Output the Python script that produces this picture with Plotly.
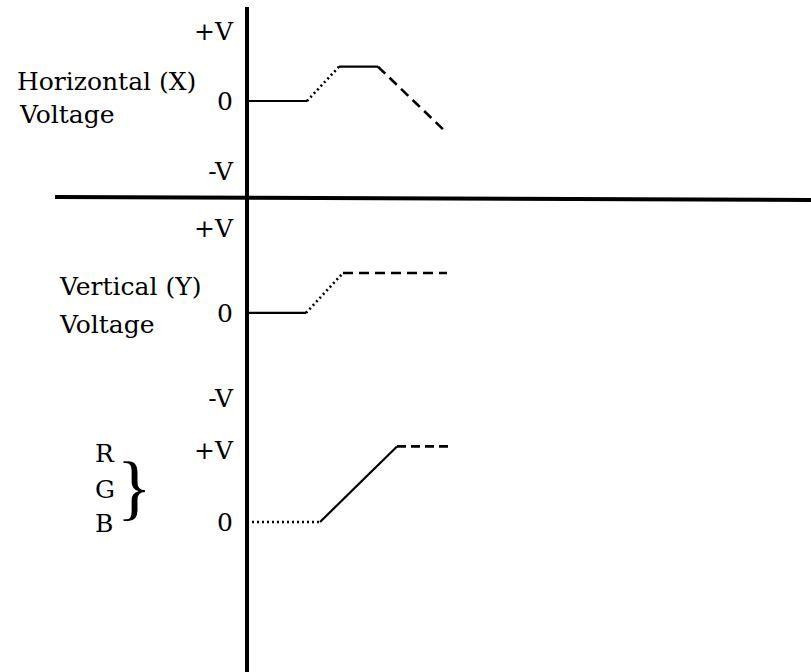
import plotly.graph_objects as go

# time axis (arbitrary units) and voltage levels (in units of V) for each panel
t_horiz = [0, 6.0, 9.2, 13.1, 19.8]
v_horiz = [0, 0, 0.49, 0.49, -0.43]

t_vert = [0, 5.9, 9.6, 20.0]
v_vert = [0, 0, 0.47, 0.47]

t_rgb = [0, 7.3, 15.0, 20.6]
v_rgb = [0, 0, 1.05, 1.05]

tick_vals_xy = [1, 0, -1]
tick_text_xy = ["+V", "0", "-V"]
tick_vals_rgb = [1, 0]
tick_text_rgb = ["+V", "0"]

# line style of each segment (solid / dotted / dashed)
horiz_dash = ["solid", "2px,3px", "solid", "10px,6px"]
vert_dash = ["solid", "2px,3px", "10px,6px"]
rgb_dash = ["2px,3px", "solid", "9px,5px"]

FONT = "DejaVu Serif"
W, H = 811, 672

fig = go.Figure()


def add_segments(t, v, dashes, yaxis):
    for i, dash in enumerate(dashes):
        fig.add_trace(go.Scatter(
            x=t[i:i + 2], y=v[i:i + 2], mode="lines", yaxis=yaxis,
            line=dict(color="black", width=2.2 if dash == "solid" else 2.6, dash=dash),
            showlegend=False, hoverinfo="skip",
        ))


add_segments(t_horiz, v_horiz, horiz_dash, "y")
add_segments(t_vert, v_vert, vert_dash, "y2")
add_segments(t_rgb, v_rgb, rgb_dash, "y3")

axis_pos = 247 / W
ycommon = dict(showgrid=False, zeroline=False, showline=False, ticks="",
               anchor="free", position=axis_pos, side="left",
               tickfont=dict(family=FONT, size=25, color="black"),
               ticklabelstandoff=14, domain=[0, 1])

fig.update_layout(
    width=W, height=H,
    margin=dict(l=0, r=0, t=0, b=0),
    paper_bgcolor="white", plot_bgcolor="white",
    xaxis=dict(range=[-24.7, 56.4], visible=False),
    yaxis=dict(range=[-8.157, 1.443], tickvals=tick_vals_xy, ticktext=tick_text_xy, **ycommon),
    yaxis2=dict(range=[-4.224, 3.682], tickvals=tick_vals_xy, ticktext=tick_text_xy,
                overlaying="y", **ycommon),
    yaxis3=dict(range=[-2.083, 7.25], tickvals=tick_vals_rgb, ticktext=tick_text_rgb,
                overlaying="y", **ycommon),
)

# the vertical (time) axis and the horizontal divider
fig.add_shape(type="line", xref="x", yref="paper", x0=0, x1=0, y0=0, y1=1 - 7 / H,
              line=dict(color="black", width=4))
fig.add_shape(type="line", xref="x", yref="paper", x0=-19.2, x1=56.4,
              y0=1 - 197 / H, y1=1 - 200 / H, line=dict(color="black", width=4))

labels = [
    ("Horizontal (X)", 15, 81),
    ("Voltage", 17, 115),
    ("Vertical (Y)", 57, 287),
    ("Voltage", 57, 324),
    ("R", 93, 453),
    ("G", 93, 489),
    ("B", 93, 523),
]
for text, px, py in labels:
    fig.add_annotation(text=text, x=px / W, y=1 - py / H, xref="paper", yref="paper",
                       xanchor="left", yanchor="middle", showarrow=False,
                       font=dict(family=FONT, size=25, color="black"))

fig.add_annotation(text="}", x=116 / W, y=1 - 487 / H, xref="paper", yref="paper",
                   xanchor="left", yanchor="middle", showarrow=False, borderpad=0,
                   font=dict(family="Liberation Serif", size=72, color="black"))

fig.write_html("out.html", config={"displayModeBar": False},
               post_script="document.body.style.margin = '0';")
